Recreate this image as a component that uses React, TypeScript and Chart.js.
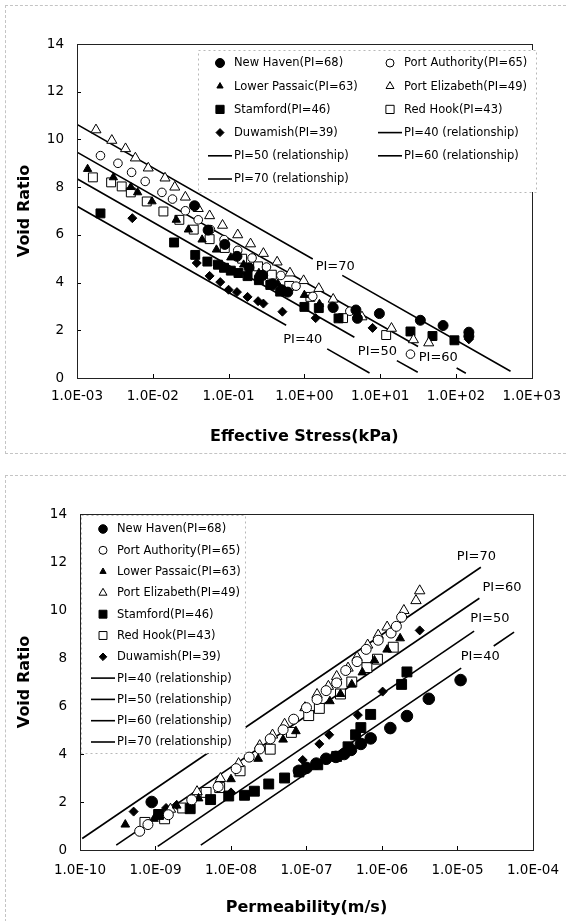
import React, { useEffect, useRef } from "react";
import { Chart, registerables } from "chart.js";

Chart.register(...registerables);

type Pt = [number, number | null];

const FONT = "'DejaVu Sans', Verdana, Tahoma, sans-serif";

// ---------------- shared ----------------
const voidRatioTicks = [0, 2, 4, 6, 8, 10, 12, 14];
const seriesLabels = [
  "New Haven(PI=68)",
  "Port Authority(PI=65)",
  "Lower Passaic(PI=63)",
  "Port Elizabeth(PI=49)",
  "Stamford(PI=46)",
  "Red Hook(PI=43)",
  "Duwamish(PI=39)",
];
const relationshipLabels = [
  "PI=40 (relationship)",
  "PI=50 (relationship)",
  "PI=60 (relationship)",
  "PI=70 (relationship)",
];
const relationshipTags = ["PI=40", "PI=50", "PI=60", "PI=70"];

// ---------------- panel 1: effective stress (kPa) vs void ratio ----------------
const stressTicks = [1e-3, 1e-2, 1e-1, 1, 10, 100, 1000];
const stressTickLabels = ["1.0E-03", "1.0E-02", "1.0E-01", "1.0E+00", "1.0E+01", "1.0E+02", "1.0E+03"];

const newHavenStress: Pt[] = [
  [3.55e-2, 7.22], [5.37e-2, 6.2], [8.91e-2, 5.6], [1.29e-1, 5.1], [1.86e-1, 4.62], [2.82e-1, 4.3],
  [3.8e-1, 3.95], [5.01e-1, 3.7], [6.03e-1, 3.6], [2.4, 2.95], [4.79, 2.85], [5.01, 2.5], [9.77, 2.7],
  [33.9, 2.42], [67.6, 2.2], [148, 1.92], [148, 1.75],
];
const portAuthorityStress: Pt[] = [
  [2.04e-3, 9.32], [3.47e-3, 9.0], [5.25e-3, 8.62], [7.94e-3, 8.24], [1.32e-2, 7.78], [1.82e-2, 7.5],
  [2.69e-2, 7.01], [3.98e-2, 6.63], [5.75e-2, 6.22], [8.71e-2, 5.8], [1.32e-1, 5.35], [2.04e-1, 5.03],
  [3.16e-1, 4.65], [4.9e-1, 4.3], [7.76e-1, 3.85], [1.29, 3.42], [2.34, 3.0], [3.98, 2.8], [25.1, 1.0],
];
const lowerPassaicStress: Pt[] = [
  [1.38e-3, 8.76], [3.02e-3, 8.41], [5.13e-3, 8.0], [6.31e-3, 7.78], [9.77e-3, 7.4], [2.04e-2, 6.63],
  [2.95e-2, 6.22], [4.47e-2, 5.8], [6.92e-2, 5.38], [1.07e-1, 5.05], [1.58e-1, 4.75], [2.51e-1, 4.4],
  [4.47e-1, 3.95], [1.0, 3.48], [1.58, 3.1],
];
const portElizabethStress: Pt[] = [
  [1.78e-3, 10.4], [2.88e-3, 9.96], [4.37e-3, 9.61], [5.89e-3, 9.22], [8.71e-3, 8.8], [1.45e-2, 8.38],
  [1.95e-2, 8.0], [2.69e-2, 7.58], [3.98e-2, 7.1], [5.62e-2, 6.8], [8.32e-2, 6.4], [1.32e-1, 6.0],
  [1.95e-1, 5.62], [2.88e-1, 5.22], [4.37e-1, 4.86], [6.46e-1, 4.4], [9.77e-1, 4.08], [1.55, 3.75],
  [2.4, 3.3], [5.75, 2.56], [14.1, 2.08], [27.5, 1.6], [43.7, 1.47],
];
const stamfordStress: Pt[] = [
  [2.04e-3, 6.9], [1.91e-2, 5.68], [3.63e-2, 5.16], [5.25e-2, 4.88], [7.24e-2, 4.75], [8.71e-2, 4.62],
  [1.07e-1, 4.5], [1.35e-1, 4.4], [1.78e-1, 4.27], [2.51e-1, 4.1], [3.55e-1, 3.9], [4.79e-1, 3.62],
  [1.0, 2.98], [1.55, 2.93], [2.82, 2.5], [25.1, 1.95], [49.0, 1.76], [95.5, 1.58],
];
const redHookStress: Pt[] = [
  [1.62e-3, 8.41], [2.82e-3, 8.2], [3.89e-3, 8.03], [5.13e-3, 7.78], [8.32e-3, 7.4], [1.38e-2, 6.98],
  [2.24e-2, 6.63], [3.47e-2, 6.22], [5.62e-2, 5.82], [8.91e-2, 5.45], [1.51e-1, 5.0], [2.45e-1, 4.68],
  [3.72e-1, 4.33], [6.31e-1, 3.86], [1.2, 3.4], [3.24, 2.51], [12.0, 1.8],
];
const duwamishStress: Pt[] = [
  [5.37e-3, 6.7], [3.8e-2, 4.82], [5.62e-2, 4.28], [7.76e-2, 4.02], [1.0e-1, 3.7], [1.29e-1, 3.6],
  [1.78e-1, 3.4], [2.45e-1, 3.22], [2.88e-1, 3.12], [5.13e-1, 2.78], [1.41, 2.51], [7.94, 2.1], [148, 1.62],
];
// relationship lines (null = break where the tag sits)
const pi40Stress: Pt[] = [[1e-3, 7.2], [0.575, 2.21], [0.575, null], [2.0, 1.22], [7.24, 0.21]];
const pi50Stress: Pt[] = [[1e-3, 8.35], [4.57, 1.71], [4.57, null], [16.6, 0.73], [31.3, 0.24]];
const pi60Stress: Pt[] = [[1e-3, 9.47], [31.6, 1.32], [31.6, null], [102, 0.42], [135, 0.2]];
const pi70Stress: Pt[] = [[1e-3, 10.63], [1.29, 4.99], [1.29, null], [3.16, 4.3], [525, 0.28]];
const stressTagAt: Pt[] = [[0.953, 1.59], [9.2, 1.09], [58.5, 0.84], [2.55, 4.65]];

// ---------------- panel 2: permeability (m/s) vs void ratio ----------------
const permTicks = [1e-10, 1e-9, 1e-8, 1e-7, 1e-6, 1e-5, 1e-4];
const permTickLabels = ["1.0E-10", "1.0E-09", "1.0E-08", "1.0E-07", "1.0E-06", "1.0E-05", "1.0E-04"];

const newHavenPerm: Pt[] = [
  [8.91e-10, 2.0], [7.94e-8, 3.3], [1.0e-7, 3.42], [1.35e-7, 3.6], [1.82e-7, 3.8], [2.45e-7, 3.88],
  [3.16e-7, 4.0], [3.89e-7, 4.17], [5.25e-7, 4.42], [7.08e-7, 4.65], [1.29e-6, 5.08], [2.14e-6, 5.58],
  [4.17e-6, 6.3], [1.1e-5, 7.08],
];
const portAuthorityPerm: Pt[] = [
  [6.17e-10, 0.78], [7.94e-10, 1.06], [1.48e-9, 1.47], [3.02e-9, 2.09], [6.76e-9, 2.64], [1.17e-8, 3.39],
  [1.74e-8, 3.87], [2.4e-8, 4.21], [3.31e-8, 4.63], [4.9e-8, 5.01], [6.76e-8, 5.45], [1.0e-7, 5.93],
  [1.38e-7, 6.27], [1.82e-7, 6.64], [2.51e-7, 6.96], [3.31e-7, 7.48], [4.68e-7, 7.85], [6.17e-7, 8.36],
  [8.91e-7, 8.74], [1.32e-6, 9.04], [1.55e-6, 9.32], [1.82e-6, 9.7],
];
const lowerPassaicPerm: Pt[] = [
  [3.98e-10, 1.06], [9.55e-10, 1.3], [1.91e-9, 1.85], [3.72e-9, 2.15], [1.0e-8, 2.95], [2.29e-8, 3.8],
  [4.9e-8, 4.6], [7.24e-8, 4.95], [2.04e-7, 6.2], [2.82e-7, 6.5], [3.98e-7, 6.9], [5.5e-7, 7.4],
  [7.94e-7, 7.9], [1.17e-6, 8.35], [1.74e-6, 8.82],
];
const portElizabethPerm: Pt[] = [
  [1.58e-9, 1.7], [3.55e-9, 2.43], [7.24e-9, 2.98], [1.26e-8, 3.6], [2.4e-8, 4.35], [3.55e-8, 4.79],
  [5.13e-8, 5.24], [9.55e-8, 5.93], [1.38e-7, 6.48], [1.95e-7, 6.82], [2.51e-7, 7.23], [3.55e-7, 7.58],
  [4.68e-7, 8.03], [6.46e-7, 8.54], [8.91e-7, 8.95], [1.17e-6, 9.29], [1.95e-6, 9.98], [2.82e-6, 10.39],
  [3.16e-6, 10.8],
];
const stamfordPerm: Pt[] = [
  [1.1e-9, 1.48], [2.88e-9, 1.72], [5.37e-9, 2.1], [9.33e-9, 2.25], [1.51e-8, 2.28], [2.04e-8, 2.45],
  [3.16e-8, 2.75], [5.13e-8, 3.0], [7.94e-8, 3.25], [1.41e-7, 3.55], [2.51e-7, 3.9], [3.55e-7, 4.3],
  [4.47e-7, 4.8], [5.25e-7, 5.1], [7.08e-7, 5.65], [1.82e-6, 6.9], [2.14e-6, 7.42],
];
const redHookPerm: Pt[] = [
  [7.24e-10, 1.15], [1.32e-9, 1.3], [2.29e-9, 1.75], [4.68e-9, 2.4], [7.08e-9, 2.6], [1.32e-8, 3.3],
  [3.31e-8, 4.2], [6.31e-8, 4.9], [1.07e-7, 5.6], [1.48e-7, 5.9], [2.82e-7, 6.5], [3.98e-7, 7.0],
  [6.31e-7, 7.6], [8.71e-7, 7.95], [1.41e-6, 8.45],
];
const duwamishPerm: Pt[] = [
  [5.13e-10, 1.6], [1.38e-9, 1.75], [1.91e-9, 1.88], [1.0e-8, 2.4], [8.91e-8, 3.75], [1.48e-7, 4.42],
  [2.0e-7, 4.8], [4.79e-7, 5.62], [1.02e-6, 6.6], [3.16e-6, 9.15],
];
const pi40Perm: Pt[] = [[3.98e-9, 0.2], [1.12e-5, 7.58], [1.12e-5, null], [3.02e-5, 8.5], [5.62e-5, 9.08]];
const pi50Perm: Pt[] = [[1.07e-9, 0.15], [1.66e-5, 9.12]];
const pi60Perm: Pt[] = [[3.02e-10, 0.2], [1.95e-5, 10.49]];
const pi70Perm: Pt[] = [[1.07e-10, 0.48], [2.04e-5, 11.78]];
const permTagAt: Pt[] = [[2.0e-5, 8.04], [2.69e-5, 9.63], [3.89e-5, 10.92], [1.78e-5, 12.21]];

// ---------------- styles ----------------
const markerStyle = ["circle", "circle", "triangle", "triangle", "rect", "rect", "rectRot"];
const markerFilled = [true, false, true, false, true, false, true];

interface Panel {
  series: Pt[][];
  lines: Pt[][];
  tagAt: Pt[];
  xMin: number;
  xMax: number;
  xTicks: number[];
  xTickLabels: string[];
  xTitle: string;
  markerRadius: number[];
  legendRadius: number[];
  padTop: number;
  yWidth: number;
  xHeight: number;
  xTickPad: number;
  xTitlePad: number;
  legend: { cols: number; markerX: number[]; firstRowY: number; rowH: number; textGap: number; box: number[] };
}

function drawMarker(ctx: CanvasRenderingContext2D, style: string, x: number, y: number, r: number, filled: boolean) {
  ctx.beginPath();
  if (style === "circle") ctx.arc(x, y, r, 0, Math.PI * 2);
  else if (style === "triangle") {
    ctx.moveTo(x, y - r);
    ctx.lineTo(x + r * 0.866, y + r * 0.5);
    ctx.lineTo(x - r * 0.866, y + r * 0.5);
    ctx.closePath();
  } else if (style === "rect") {
    const s = r * Math.SQRT1_2;
    ctx.rect(x - s, y - s, 2 * s, 2 * s);
  } else {
    ctx.moveTo(x - r, y);
    ctx.lineTo(x, y - r);
    ctx.lineTo(x + r, y);
    ctx.lineTo(x, y + r);
    ctx.closePath();
  }
  ctx.fillStyle = filled ? "#000" : "#fff";
  ctx.fill();
  ctx.lineWidth = 1;
  ctx.strokeStyle = "#000";
  ctx.stroke();
}

function buildConfig(p: Panel): any {
  const datasets: any[] = [
    ...p.series.map((pts, i) => ({
      label: seriesLabels[i],
      data: pts.map(([x, y]) => ({ x, y })),
      showLine: false,
      pointStyle: markerStyle[i],
      pointRadius: p.markerRadius[i],
      pointHoverRadius: p.markerRadius[i],
      pointBackgroundColor: markerFilled[i] ? "#000" : "#fff",
      pointBorderColor: "#000",
      pointBorderWidth: 1,
    })),
    ...p.lines.map((pts, i) => ({
      label: relationshipLabels[i],
      data: pts.map(([x, y]) => ({ x, y })),
      showLine: true,
      spanGaps: false,
      borderColor: "#000",
      borderWidth: 1.6,
      pointRadius: 0,
      pointHoverRadius: 0,
      tension: 0,
      fill: false,
    })),
  ];

  const decor = {
    id: "decor",
    afterDatasetsDraw(chart: any) {
      const ctx: CanvasRenderingContext2D = chart.ctx;
      const a = chart.chartArea;
      const xs = chart.scales.x;
      const ys = chart.scales.y;
      ctx.save();
      // inward tick marks
      ctx.strokeStyle = "#000";
      ctx.lineWidth = 1;
      ctx.beginPath();
      ys.ticks.forEach((t: any) => {
        const py = Math.round(ys.getPixelForValue(t.value)) + 0.5;
        ctx.moveTo(a.left, py);
        ctx.lineTo(a.left + 4, py);
      });
      xs.ticks.forEach((t: any) => {
        const px = Math.round(xs.getPixelForValue(t.value)) + 0.5;
        ctx.moveTo(px, a.bottom);
        ctx.lineTo(px, a.bottom - 4);
      });
      ctx.stroke();
      // plot frame
      ctx.strokeStyle = "#222";
      ctx.strokeRect(Math.round(a.left) + 0.5, Math.round(a.top) + 0.5, Math.round(a.right - a.left), Math.round(a.bottom - a.top));
      // PI tags
      ctx.fillStyle = "#000";
      ctx.font = `13px ${FONT}`;
      ctx.textAlign = "center";
      ctx.textBaseline = "middle";
      p.tagAt.forEach(([x, y], i) => {
        ctx.fillText(relationshipTags[i], xs.getPixelForValue(x), ys.getPixelForValue(y as number));
      });
      // legend
      const L = p.legend;
      const [bl, bt, br, bb] = L.box;
      ctx.fillStyle = "#fff";
      ctx.fillRect(bl, bt, br - bl, bb - bt);
      ctx.setLineDash([2, 3]);
      ctx.strokeStyle = "#b8b8b8";
      ctx.strokeRect(bl + 0.5, bt + 0.5, br - bl, bb - bt);
      ctx.setLineDash([]);
      ctx.font = `11.5px ${FONT}`;
      ctx.textAlign = "left";
      ctx.textBaseline = "middle";
      chart.data.datasets.forEach((ds: any, i: number) => {
        const col = i % L.cols;
        const row = Math.floor(i / L.cols);
        const mx = L.markerX[col];
        const my = L.firstRowY + row * L.rowH;
        if (ds.showLine) {
          ctx.strokeStyle = "#000";
          ctx.lineWidth = 1.6;
          ctx.beginPath();
          ctx.moveTo(mx - 12, my);
          ctx.lineTo(mx + 12, my);
          ctx.stroke();
        } else {
          drawMarker(ctx, markerStyle[i], mx, my, p.legendRadius[i], markerFilled[i]);
        }
        ctx.fillStyle = "#000";
        ctx.fillText(ds.label, mx + L.textGap, my + 0.5);
      });
      ctx.restore();
    },
  };

  return {
    type: "scatter",
    data: { datasets },
    options: {
      responsive: false,
      animation: false,
      devicePixelRatio: 1,
      layout: { padding: { top: p.padTop, right: 31, left: 0, bottom: 0 } },
      plugins: { legend: { display: false }, tooltip: { enabled: false } },
      scales: {
        x: {
          type: "logarithmic",
          position: "bottom",
          min: p.xMin,
          max: p.xMax,
          afterBuildTicks: (s: any) => {
            s.ticks = p.xTicks.map((v) => ({ value: v }));
          },
          afterFit: (s: any) => {
            s.height = p.xHeight;
          },
          grid: { display: false, drawTicks: false },
          border: { display: false },
          ticks: {
            autoSkip: false,
            maxRotation: 0,
            minRotation: 0,
            padding: p.xTickPad,
            color: "#000",
            font: { family: FONT, size: 13.5 },
            callback: (_v: any, i: number) => p.xTickLabels[i] ?? "",
          },
          title: {
            display: true,
            text: p.xTitle,
            color: "#000",
            font: { family: FONT, size: 16, weight: "bold" },
            padding: { top: 0, bottom: p.xTitlePad },
          },
        },
        y: {
          type: "linear",
          min: 0,
          max: 14,
          afterBuildTicks: (s: any) => {
            s.ticks = voidRatioTicks.map((v) => ({ value: v }));
          },
          afterFit: (s: any) => {
            s.width = p.yWidth;
          },
          grid: { display: false, drawTicks: false },
          border: { display: false },
          ticks: {
            padding: 13,
            color: "#000",
            font: { family: FONT, size: 13.5 },
            callback: (v: any) => String(v),
          },
          title: {
            display: true,
            text: "Void Ratio",
            color: "#000",
            font: { family: FONT, size: 16, weight: "bold" },
            padding: { top: 15.4, bottom: 0 },
          },
        },
      },
    },
    plugins: [decor],
  };
}

const stressPanel: Panel = {
  series: [newHavenStress, portAuthorityStress, lowerPassaicStress, portElizabethStress, stamfordStress, redHookStress, duwamishStress],
  lines: [pi40Stress, pi50Stress, pi60Stress, pi70Stress],
  tagAt: stressTagAt,
  xMin: 1e-3,
  xMax: 1e3,
  xTicks: stressTicks,
  xTickLabels: stressTickLabels,
  xTitle: "Effective Stress(kPa)",
  markerRadius: [5, 4.3, 4.8, 5.8, 6.3, 6.3, 4.5],
  legendRadius: [4.5, 4, 3.6, 4.6, 5.8, 5.8, 4],
  padTop: 44,
  yWidth: 77,
  xHeight: 82,
  xTickPad: 10,
  xTitlePad: 13.4,
  legend: { cols: 2, markerX: [220, 390], firstRowY: 63, rowH: 23.2, textGap: 14, box: [198, 50, 536, 192] },
};

const permPanel: Panel = {
  series: [newHavenPerm, portAuthorityPerm, lowerPassaicPerm, portElizabethPerm, stamfordPerm, redHookPerm, duwamishPerm],
  lines: [pi40Perm, pi50Perm, pi60Perm, pi70Perm],
  tagAt: permTagAt,
  xMin: 1e-10,
  xMax: 1e-4,
  xTicks: permTicks,
  xTickLabels: permTickLabels,
  xTitle: "Permeability(m/s)",
  markerRadius: [5.8, 5, 5, 6, 7, 7, 4.5],
  legendRadius: [4.3, 4, 3.6, 4.6, 5.6, 5.6, 3.8],
  padTop: 54,
  yWidth: 80,
  xHeight: 71,
  xTickPad: 12,
  xTitlePad: 3.4,
  legend: { cols: 1, markerX: [103], firstRowY: 69, rowH: 21.3, textGap: 14, box: [81, 55, 245, 293] },
};

function ChartCanvas({ panel, top, height }: { panel: Panel; top: number; height: number }) {
  const ref = useRef<HTMLCanvasElement | null>(null);
  useEffect(() => {
    if (!ref.current) return;
    const chart = new Chart(ref.current, buildConfig(panel));
    return () => chart.destroy();
  }, [panel]);
  return (
    <canvas
      ref={ref}
      width={571}
      height={height}
      style={{ position: "absolute", left: 0, top, width: 571, height, display: "block" }}
    />
  );
}

export default function App() {
  return (
    <div style={{ position: "absolute", left: 0, top: 0, width: 571, height: 921, background: "#fff", overflow: "hidden" }}>
      <div
        style={{
          position: "absolute",
          left: 5,
          top: 5,
          width: 560,
          height: 447,
          borderTop: "1px dashed #c4c4c4",
          borderLeft: "1px dashed #c4c4c4",
          borderBottom: "1px dashed #c4c4c4",
        }}
      />
      <div
        style={{
          position: "absolute",
          left: 5,
          top: 475,
          width: 560,
          height: 446,
          borderTop: "1px dashed #c4c4c4",
          borderLeft: "1px dashed #c4c4c4",
        }}
      />
      <ChartCanvas panel={stressPanel} top={0} height={460} />
      <ChartCanvas panel={permPanel} top={460} height={461} />
    </div>
  );
}
